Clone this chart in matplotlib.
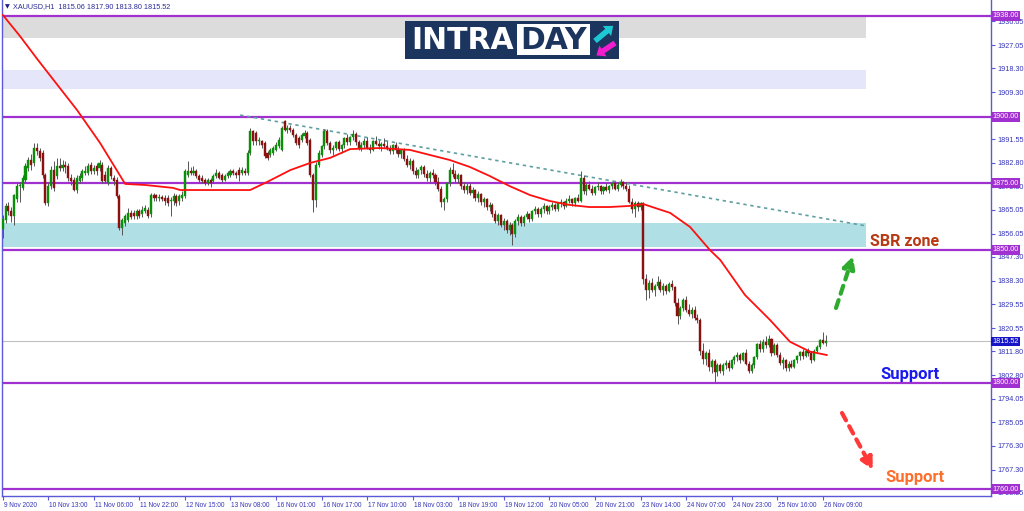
import matplotlib
matplotlib.use('Agg')
import matplotlib.pyplot as plt
import matplotlib.transforms as mtransforms
from matplotlib.patches import Rectangle, FancyArrow

# ---------------- data (XAUUSD H1) ----------------
opens = [1858, 1861.3, 1866.4, 1864.5, 1862.6, 1869, 1873.9, 1873.3, 1876.4, 1880.8,
         1883.9, 1882.5, 1888.3, 1887, 1886.4, 1878.3, 1867.6, 1873.9, 1880.1, 1877.6,
         1881.4, 1880.8, 1882, 1881.4, 1877, 1876.4, 1872.6, 1875.8, 1877, 1878.9,
         1878.9, 1882, 1879.5, 1881.4, 1880.8, 1882, 1878.3, 1875.1, 1880.8, 1877,
         1876.4, 1870.1, 1858.2, 1860.1, 1861.3, 1863.9, 1863.9, 1862.6, 1864.5, 1863.5,
         1864.5, 1865.1, 1863.5, 1870.7, 1870.7, 1869.5, 1870, 1869.5, 1869.5, 1868.2,
         1868.2, 1870.1, 1868.2, 1869.5, 1870.1, 1878.3, 1879.5, 1878.9, 1879.5, 1877.6,
         1877, 1876.4, 1875.1, 1876.4, 1875.8, 1877.6, 1878.9, 1878.3, 1876.4, 1877.6,
         1878.3, 1879.5, 1878.9, 1880.1, 1878.9, 1879.5, 1878.9, 1886.4, 1894.6, 1893.9,
         1890.8, 1890.8, 1890.2, 1886.4, 1885.8, 1886.4, 1887.7, 1888.9, 1887.7, 1898.3,
         1895.2, 1895.8, 1895.2, 1893.3, 1892, 1891.4, 1892.7, 1893.9, 1891.4, 1878.3,
         1868.9, 1882, 1885.8, 1888.9, 1894.6, 1890.2, 1887.7, 1888.5, 1890.5, 1888,
         1889.5, 1892, 1890.5, 1892.5, 1893.5, 1890.5, 1888.5, 1889.5, 1891, 1888.5,
         1887.5, 1891, 1890, 1889, 1890, 1889, 1888, 1887, 1889.5, 1887.5,
         1886, 1887.5, 1884, 1882, 1883.5, 1879.5, 1878, 1880, 1881, 1878.5,
         1877, 1879, 1878, 1875.5, 1873, 1868, 1869, 1875, 1880, 1878.5,
         1876.5, 1878, 1874, 1872.5, 1874, 1871.5, 1872.5, 1869.5, 1871, 1868,
         1869, 1866, 1867, 1863.5, 1861, 1863, 1859.5, 1861, 1857.5, 1859.5,
         1856, 1861, 1862.5, 1860, 1862.5, 1863.5, 1861.5, 1864.5, 1865.5, 1863.5,
         1865.5, 1866.5, 1864.5, 1866, 1867, 1865.5, 1867.5, 1868, 1866.5, 1868.5,
         1869, 1867.5, 1869.5, 1868.5, 1877, 1872, 1874.5, 1873, 1871.5, 1873.5,
         1874, 1872, 1873.5, 1872.5, 1874, 1875, 1873, 1874.5, 1875.5, 1874,
         1873, 1868, 1865.5, 1867.5, 1866, 1867.5, 1839, 1835, 1837.5, 1835,
         1836.5, 1838, 1835, 1836.5, 1834.5, 1837, 1836, 1830, 1825, 1828,
         1831, 1827.5, 1826, 1827.5, 1824.5, 1823.5, 1812, 1809, 1811, 1806,
         1808, 1804, 1806.5, 1804.5, 1806.5, 1807.5, 1805.5, 1808.5, 1809.5, 1810.5,
         1808.5, 1811, 1807, 1804.5, 1806.5, 1809.5, 1814.5, 1812.5, 1815.5, 1814,
         1816.5, 1811, 1814, 1810.5, 1807.5, 1808.5, 1805.5, 1807, 1806, 1808.5,
         1810, 1811.5, 1810, 1812, 1811, 1808.5, 1812, 1813.5, 1816, 1815.06]
highs = [1863, 1867.6, 1868, 1866, 1871, 1875, 1875.5, 1878, 1882.5, 1885,
         1886, 1890.2, 1890.2, 1888.5, 1887.5, 1879, 1875, 1881.5, 1883.3, 1884.5,
         1884.5, 1883.9, 1883.5, 1882.5, 1878.5, 1877.5, 1878, 1879, 1880.5, 1881.5,
         1882.7, 1883, 1882, 1882.5, 1883.9, 1883, 1879.5, 1882, 1881.5, 1878,
         1877.5, 1871, 1862, 1863.5, 1865.7, 1864.8, 1865, 1865.5, 1865.5, 1866.4,
         1867, 1866, 1871.5, 1871.5, 1871, 1871, 1870.8, 1870.5, 1870.5, 1870,
         1871.5, 1871, 1871, 1872, 1880.5, 1883.3, 1881, 1881.4, 1880.5, 1878.5,
         1878, 1877, 1877, 1877, 1878.5, 1880.5, 1879.5, 1879, 1878.5, 1879.5,
         1880.5, 1880.5, 1879.5, 1881, 1881, 1880.8, 1887.5, 1895.8, 1895.2, 1894.6,
         1892.5, 1891.5, 1891, 1887, 1888.5, 1889, 1890.5, 1892.5, 1896.5, 1899,
         1897, 1897, 1896, 1894, 1893, 1894, 1895, 1894.6, 1892, 1879,
         1883, 1887.5, 1889.5, 1895.5, 1895.5, 1891, 1889.5, 1891, 1891.5, 1890,
         1892.5, 1893.5, 1893, 1895, 1894.5, 1891.5, 1890.5, 1892, 1892.5, 1890,
         1891.5, 1893, 1891.5, 1890.5, 1892, 1891, 1889.5, 1890, 1890.5, 1889,
         1888, 1888.5, 1885.5, 1884.5, 1884, 1881, 1880.5, 1882, 1882, 1880,
         1879.5, 1880.5, 1879, 1877.5, 1874, 1870, 1875.5, 1881, 1882.5, 1880,
         1879, 1878.5, 1875.5, 1875, 1875, 1873.5, 1873, 1872, 1871.5, 1870,
         1869.5, 1868, 1867.5, 1865, 1864, 1863.5, 1862, 1861.5, 1860.5, 1860,
         1861.5, 1863.5, 1863, 1863, 1864.5, 1864, 1865, 1866.5, 1866, 1866,
         1867.5, 1867, 1867, 1868, 1867.5, 1868, 1869, 1868.5, 1869.5, 1870.5,
         1869.5, 1870, 1871, 1879.5, 1878, 1875, 1876, 1874.5, 1874, 1875.5,
         1874.5, 1874, 1875, 1874.5, 1875.5, 1876, 1875.5, 1876.5, 1876, 1875.5,
         1874.5, 1869.5, 1868.5, 1868.5, 1868, 1868, 1841, 1838.5, 1839.5, 1837,
         1840, 1839, 1837.5, 1837, 1838, 1838.5, 1836.5, 1832, 1829, 1832,
         1832.5, 1829.5, 1828.5, 1829, 1826, 1824.5, 1815, 1812, 1812.5, 1809,
         1809, 1807.5, 1807.5, 1807.5, 1808.5, 1808.5, 1809, 1810.5, 1811.5, 1811,
         1811.5, 1812.5, 1808, 1807.5, 1810, 1815, 1816, 1816.5, 1817.5, 1818,
         1817, 1815, 1815, 1811.5, 1809.5, 1809, 1808, 1808.5, 1809, 1810.5,
         1812, 1812.5, 1812.5, 1813, 1812, 1812.5, 1814, 1816.5, 1819, 1817.9]
lows = [1854.5, 1860, 1863, 1860.5, 1859.5, 1868, 1868, 1872.5, 1875.5, 1879.5,
        1880, 1881.5, 1885.5, 1883.5, 1877, 1867, 1866.5, 1873, 1872, 1876.5,
        1879.5, 1879.5, 1879, 1876, 1874.5, 1872, 1871.5, 1875, 1876, 1878,
        1878, 1878.5, 1878.5, 1878, 1879.5, 1875, 1875, 1874.5, 1876.5, 1874.5,
        1869.5, 1857.6, 1855.7, 1859, 1860.5, 1861.5, 1861.5, 1861.5, 1862, 1862.5,
        1864, 1862, 1862.5, 1868.5, 1868.5, 1868.5, 1868.5, 1867, 1866.5, 1862.6,
        1867, 1866.5, 1867, 1868.5, 1869.5, 1877.5, 1878, 1878, 1877, 1875.5,
        1875, 1874.5, 1874.5, 1873.5, 1875, 1877, 1876.5, 1875.5, 1875.8, 1877,
        1877.5, 1878, 1877, 1875.8, 1878, 1878, 1878, 1885.5, 1889.5, 1889.5,
        1889.5, 1888.5, 1884.5, 1883.9, 1885, 1885.8, 1887, 1888.3, 1887, 1894.6,
        1894, 1894.5, 1892.5, 1889.5, 1888.5, 1890.5, 1892, 1889.5, 1877.5, 1864.3,
        1866, 1881, 1885, 1888, 1889.5, 1886.5, 1885.5, 1887.5, 1887, 1886.5,
        1888.5, 1889.5, 1889.5, 1891.5, 1889.5, 1887.5, 1887, 1888.5, 1888, 1886.5,
        1887, 1889.5, 1888, 1887, 1888.5, 1887.5, 1886, 1886, 1886.5, 1885,
        1884.5, 1883.5, 1881, 1880.5, 1878.5, 1877, 1877, 1878.5, 1877.5, 1876,
        1875.5, 1877, 1874.5, 1872, 1866, 1865, 1868, 1874, 1877.5, 1875.5,
        1875, 1873, 1871.5, 1871, 1870.5, 1869.5, 1868.5, 1868, 1867, 1866,
        1865, 1864.5, 1862.5, 1860, 1859.5, 1858.5, 1857.5, 1856.5, 1855.5, 1852,
        1855, 1859.5, 1859, 1859, 1861.5, 1860.5, 1861, 1863.5, 1862.5, 1862.5,
        1864, 1863.5, 1863.5, 1865, 1864.5, 1864.5, 1866, 1865.5, 1866, 1867.5,
        1866.5, 1866.5, 1868, 1868, 1871, 1870.5, 1872.5, 1870.5, 1870.5, 1872.5,
        1871, 1871, 1872, 1871.5, 1873, 1872.5, 1872, 1873.5, 1873, 1872,
        1867.5, 1864, 1862.5, 1864.5, 1865, 1837, 1831, 1832, 1834, 1832.5,
        1835.5, 1834, 1833, 1833.5, 1834, 1835, 1829, 1822, 1824, 1827,
        1826.5, 1825, 1824.5, 1823.5, 1822.5, 1810.5, 1807, 1806.5, 1804.5, 1803.5,
        1800.4, 1802.5, 1803.5, 1803, 1805, 1804.5, 1805, 1807, 1808, 1807.5,
        1808, 1806.5, 1803.5, 1803.5, 1805.5, 1809, 1811.5, 1811.5, 1813, 1813.5,
        1810, 1810.5, 1809.5, 1806.5, 1805, 1804.5, 1804.5, 1805.5, 1805.5, 1807.5,
        1808.5, 1809, 1809.5, 1810, 1807.5, 1808, 1811, 1812.5, 1814.5, 1813.8]
closes = [1861.5, 1866.4, 1864.5, 1862.6, 1870.7, 1873.9, 1874.5, 1877.0, 1881.4, 1883.9,
          1882, 1888.3, 1887, 1884.5, 1878.3, 1867.6, 1873.9, 1880.1, 1873.3, 1881.4,
          1880.8, 1882.0, 1881, 1877, 1875.8, 1872.6, 1877, 1877.6, 1879.5, 1879.5,
          1881.4, 1879.5, 1880.8, 1879.5, 1882.7, 1875.8, 1875.8, 1880.8, 1877.6, 1875.8,
          1870.1, 1858.2, 1861.3, 1862.6, 1863.9, 1862.5, 1862.6, 1864.5, 1862.6, 1865.1,
          1865.7, 1862.6, 1870.7, 1869.5, 1869.5, 1870, 1869.3, 1868.2, 1867.6, 1868.9,
          1870.1, 1867.6, 1870.1, 1870.7, 1879.5, 1879.5, 1878.9, 1879.5, 1877.6, 1876.4,
          1875.8, 1875.1, 1876.4, 1875.1, 1877.6, 1878.9, 1877, 1876.4, 1877.6, 1878.9,
          1879.5, 1878.9, 1878.3, 1878.3, 1880.1, 1878.9, 1886.4, 1894.6, 1890.8, 1890.8,
          1891.4, 1889.5, 1885.2, 1884.5, 1887.7, 1888.3, 1889.5, 1891.4, 1895.8, 1895.2,
          1895.8, 1895.2, 1893.3, 1890.2, 1889.5, 1893.3, 1893.9, 1890.2, 1878.3, 1868.9,
          1882.0, 1886.4, 1888.9, 1894.6, 1890.2, 1887.7, 1888.5, 1890.5, 1888, 1889.5,
          1892, 1890.5, 1892.5, 1893.5, 1890.5, 1888.5, 1889.5, 1891, 1888.5, 1887.5,
          1891, 1890, 1889, 1890, 1889, 1888, 1887, 1889.5, 1887.5, 1886,
          1887.5, 1884, 1882, 1883.5, 1879.5, 1878, 1880, 1881, 1878.5, 1877,
          1879, 1878, 1875.5, 1873, 1868, 1869, 1875, 1880, 1878.5, 1876.5,
          1878, 1874, 1872.5, 1874, 1871.5, 1872.5, 1869.5, 1871, 1868, 1869,
          1866, 1867, 1863.5, 1861, 1863, 1859.5, 1861, 1857.5, 1859.5, 1856,
          1861, 1862.5, 1860, 1862.5, 1863.5, 1861.5, 1864.5, 1865.5, 1863.5, 1865.5,
          1866.5, 1864.5, 1866, 1867, 1865.5, 1867.5, 1868, 1866.5, 1868.5, 1869,
          1867.5, 1869.5, 1868.5, 1877, 1872, 1874.5, 1873, 1871.5, 1873.5, 1874,
          1872, 1873.5, 1872.5, 1874, 1875, 1873, 1874.5, 1875.5, 1874, 1873,
          1868, 1865.5, 1867.5, 1866, 1867.5, 1839, 1835, 1837.5, 1835, 1836.5,
          1838, 1835, 1836.5, 1834.5, 1837, 1836, 1830, 1825, 1828, 1831,
          1827.5, 1826, 1827.5, 1824.5, 1823.5, 1812, 1809, 1811, 1806, 1808,
          1804, 1806.5, 1804.5, 1806.5, 1807.5, 1805.5, 1808.5, 1809.5, 1810.5, 1808.5,
          1811, 1807, 1804.5, 1806.5, 1809.5, 1814.5, 1812.5, 1815.5, 1814, 1816.5,
          1811, 1814, 1810.5, 1807.5, 1808.5, 1805.5, 1807, 1806, 1808.5, 1810,
          1811.5, 1810, 1812, 1811, 1808.5, 1812, 1813.5, 1816, 1815.06, 1815.52]

ma_bars = [0, 6, 12.4, 26.1, 34.2, 43, 50, 59.8, 62.3, 86.9, 92.8, 101, 108, 115, 122,
           132.5, 143, 150, 157, 164, 171, 178, 185.2, 192, 199, 206, 213, 220, 225,
           234.4, 241.4, 248.4, 252, 260.7, 269.5, 276.5, 283.5, 289.5]
ma_vals = [1938.4, 1930.5, 1921.4, 1902.6, 1890.2, 1874.8, 1874.4, 1873.3, 1872.5, 1872.5,
           1875.5, 1880.0, 1882.7, 1884.6, 1887.9, 1888.3, 1887.6, 1885.7, 1883.8, 1881.2,
           1877.8, 1874.0, 1870.6, 1868.4, 1866.9, 1866.1, 1866.1, 1866.5, 1867.2, 1863.9,
           1858.6, 1849.9, 1846.2, 1833.0, 1823.6, 1815.4, 1811.7, 1810.4]

tick_labels = ["9 Nov 2020", "10 Nov 13:00", "11 Nov 06:00", "11 Nov 22:00", "12 Nov 15:00",
               "13 Nov 08:00", "16 Nov 01:00", "16 Nov 17:00", "17 Nov 10:00", "18 Nov 03:00",
               "18 Nov 19:00", "19 Nov 12:00", "20 Nov 05:00", "20 Nov 21:00", "23 Nov 14:00",
               "24 Nov 07:00", "24 Nov 23:00", "25 Nov 16:00", "26 Nov 09:00"]
tick_step = 16

right_ticks = [1936.05, 1927.05, 1918.30, 1909.30, 1891.55, 1882.80, 1873.80, 1865.05,
               1856.05, 1847.30, 1838.30, 1829.55, 1820.55, 1811.80, 1802.80, 1794.05,
               1785.05, 1776.30, 1767.30, 1758.55]
level_lines = [1938.00, 1900.00, 1875.00, 1850.00, 1800.00, 1760.00]
last_price = 1815.52

zone_low = [1929.6, 1910.5, 1851.2]
zone_high = [1937.5, 1917.7, 1860.2]
zone_colors = ['#dcdcdc', '#e6e6fa', '#b0e0e6']
zone_end_bar = 303.2

trend_bars = [83.4, 303.2]
trend_vals = [1900.7, 1859.0]

header = "XAUUSD,H1  1815.06 1817.90 1813.80 1815.52"

# ---------------- figure ----------------
W, H = 1024, 511
fig = plt.figure(figsize=(W / 100, H / 100), dpi=100)
fig.patch.set_facecolor('white')
ax = fig.add_axes([2 / W, 15 / H, 989 / W, 496 / H])
pix = mtransforms.Affine2D().scale(1 / W, -1 / H).translate(0, 1) + fig.transFigure

XMIN, XMAX = -0.25, 347.1
ax.set_xlim(XMIN, XMAX)
ax.set_ylim(1757.37, 1944.0)

axis_blue = '#5a5ad8'
label_blue = '#3434b8'
purple = '#a030d0'
small_font = ['Liberation Sans', 'DejaVu Sans']
YTICK_FS = 5.2
XTICK_FS = 4.7

# zones
for lo, hi, c in zip(zone_low, zone_high, zone_colors):
    ax.add_patch(Rectangle((XMIN, lo), zone_end_bar - XMIN, hi - lo, fc=c, ec='none', zorder=0.5))

# horizontal levels
for lv in level_lines:
    ax.axhline(lv, color=purple, lw=1.6, zorder=1)
ax.axhline(last_price, color='#c0c0c0', lw=0.8, zorder=1)

# trend line
ax.plot(trend_bars, trend_vals, color='#5f9ea0', lw=1.2, ls=(0, (2, 2.2)), zorder=1.5)

# candles
n = len(closes)
idx = list(range(n))
ax.vlines(idx, lows, highs, color='#555555', lw=0.7, zorder=2)
up = [c >= o for o, c in zip(opens, closes)]
bottoms = [min(o, c) for o, c in zip(opens, closes)]
heights = [max(abs(c - o), 0.25) for o, c in zip(opens, closes)]
colors = ['#0b8f0b' if u else '#8b1010' for u in up]
ax.bar(idx, heights, bottom=bottoms, width=0.72, color=colors, edgecolor=colors,
       linewidth=0.3, zorder=3)

# moving average
ax.plot(ma_bars, ma_vals, color='#ff1010', lw=1.3, zorder=4, solid_capstyle='round')

# spines
for s in ax.spines.values():
    s.set_color(axis_blue)
    s.set_linewidth(1.0)
ax.spines['top'].set_visible(False)

# x ticks
ax.set_xticks([i * tick_step for i in range(len(tick_labels))])
ax.set_xticklabels(tick_labels)
ax.tick_params(axis='x', direction='out', length=3, width=0.8, color=axis_blue,
               labelsize=XTICK_FS, labelcolor=label_blue, pad=1.5)
off = mtransforms.ScaledTranslation(1.0 / 100, 0, fig.dpi_scale_trans)
for lbl in ax.get_xticklabels():
    lbl.set_horizontalalignment('left')
    lbl.set_transform(lbl.get_transform() + off)
    lbl.set_fontfamily(small_font)

# y ticks on the right
ax.yaxis.tick_right()
ax.set_yticks(right_ticks)
ax.set_yticklabels([f"{v:.2f}" for v in right_ticks])
ax.tick_params(axis='y', direction='out', length=3, width=0.8, color=axis_blue,
               labelsize=YTICK_FS, labelcolor=label_blue, pad=1.5)
for lbl in ax.get_yticklabels():
    lbl.set_fontfamily(small_font)

ytrans = mtransforms.blended_transform_factory(ax.transAxes, ax.transData)
for lv in level_lines:
    ax.text(1.0015, lv, f"{lv:.2f}", transform=ytrans, ha='left', va='center',
            fontsize=YTICK_FS, family=small_font, color='white', zorder=10, clip_on=False,
            bbox=dict(boxstyle='square,pad=0.2', fc=purple, ec='none'))
ax.text(1.0015, last_price, f"{last_price:.2f}", transform=ytrans, ha='left', va='center',
        fontsize=YTICK_FS, family=small_font, color='white', zorder=10, clip_on=False,
        bbox=dict(boxstyle='square,pad=0.2', fc='#1616c8', ec='none'))

# header
fig.text(5, 7, "\u25BC", transform=pix, fontsize=4.5, color='#1a1a8c', va='center', ha='left')
fig.text(13, 7, header, transform=pix, fontsize=5.2, color='#2a2a9a', va='center', ha='left',
         family=small_font)

# logo
fig.add_artist(Rectangle((405, 59), 214, -38, transform=pix, fc='#1b355f', ec='none', zorder=5))
fig.add_artist(Rectangle((517, 55), 73, -31, transform=pix, fc='white', ec='none', zorder=6))
fig.text(411, 40.5, "INTRA", transform=pix, fontsize=21.5, weight='bold', color='white',
         family=['DejaVu Sans'], va='center', ha='left', zorder=7)
fig.text(553.5, 40.5, "DAY", transform=pix, fontsize=21.5, weight='bold', color='#1b355f',
         family=['DejaVu Sans'], va='center', ha='center', zorder=7)
fig.add_artist(FancyArrow(595, 41, 12, -10, width=5.5, head_width=13, head_length=8,
                          length_includes_head=False, transform=pix, fc='#1cc8d4', ec='none', zorder=7))
fig.add_artist(FancyArrow(615, 43, -12, 8, width=5.5, head_width=13, head_length=8,
                          length_includes_head=False, transform=pix, fc='#f01ecc', ec='none', zorder=7))

# annotations
ann_font = ['Roboto', 'DejaVu Sans']
ax.text(870, 246, "SBR zone", transform=pix, fontsize=11.5, weight='bold', color='#b83a14',
        family=ann_font, ha='left', va='baseline', zorder=8)
ax.text(880, 378.5, "Support", transform=pix, fontsize=12, weight='bold', color='#1a1aee',
        family=ann_font, ha='left', va='baseline', zorder=8)
ax.text(885, 482, "Support", transform=pix, fontsize=12, weight='bold', color='#ff6f2c',
        family=ann_font, ha='left', va='baseline', zorder=8)

ax.annotate("", xy=(853, 256), xytext=(836, 308), xycoords=pix, textcoords=pix,
            arrowprops=dict(arrowstyle='-|>,head_length=0.7,head_width=0.35', color='#2eaa2e',
                            lw=3, ls=(0, (2, 1.6)), shrinkA=0, shrinkB=0), zorder=8)
ax.annotate("", xy=(873, 470), xytext=(842, 413), xycoords=pix, textcoords=pix,
            arrowprops=dict(arrowstyle='-|>,head_length=0.7,head_width=0.35', color='#ff3838',
                            lw=3, ls=(0, (2, 1.6)), shrinkA=0, shrinkB=0), zorder=8)

fig.savefig('out.png', dpi=100)
